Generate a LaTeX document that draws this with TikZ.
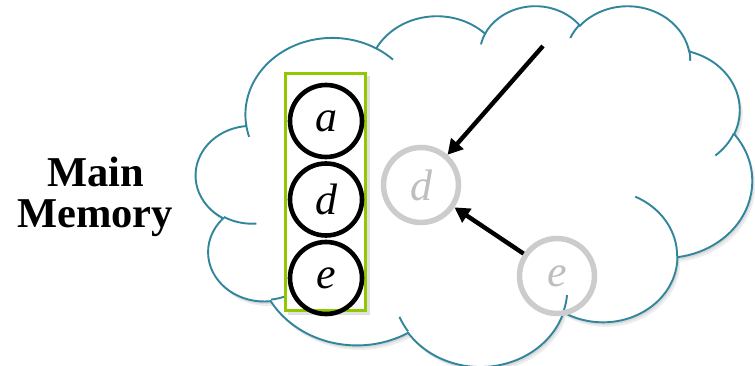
\documentclass[tikz,border=0pt]{standalone}
\usepackage{fontspec}
\setmainfont{Liberation Serif}
\usetikzlibrary{arrows.meta}
\definecolor{cloudblue}{RGB}{49,133,156}
\definecolor{boxgreen}{RGB}{146,200,0}
\definecolor{ringgray}{RGB}{204,204,204}
\definecolor{lettergray}{RGB}{190,190,190}
% visual (DrawingML) angles -> parametric angles
\newcommand\mkang[6]{%
  \pgfmathsetmacro#1{atan2((#3)*sin(#5),(#4)*cos(#5))}%
  \pgfmathsetmacro#2{atan2((#3)*sin((#5)+(#6)),(#4)*cos((#5)+(#6)))}%
  \pgfmathsetmacro#2{(#6)>0 ? ((#2)<(#1) ? (#2)+360 : (#2)) : ((#2)>(#1) ? (#2)-360 : (#2))}%
}
\newcommand\cloudpath{(390,1437)
  arc[x radius=675.3,y radius=919.0,start angle=\cSa,end angle=\cEa]
  arc[x radius=533.3,y radius=726.7,start angle=\cSb,end angle=\cEb]
  arc[x radius=436.5,y radius=594.5,start angle=\cSc,end angle=\cEc]
  arc[x radius=485.7,y radius=659.5,start angle=\cSd,end angle=\cEd]
  arc[x radius=533.3,y radius=727.3,start angle=\cSe,end angle=\cEe]
  arc[x radius=677.5,y radius=922.0,start angle=\cSf,end angle=\cEf]
  arc[x radius=578.5,y radius=786.7,start angle=\cSg,end angle=\cEg]
  arc[x radius=675.2,y radius=921.5,start angle=\cSh,end angle=\cEh]
  arc[x radius=772.0,y radius=1054.3,start angle=\cSi,end angle=\cEi]
  arc[x radius=436.0,y radius=591.8,start angle=\cSj,end angle=\cEj]
  arc[x radius=434.5,y radius=594.5,start angle=\cSk,end angle=\cEk] -- cycle}
\begin{document}
\begin{tikzpicture}[x=1pt,y=-1pt,
  cloudline/.style={draw=cloudblue,line width=1.9pt},
  memcirc/.style={circle,draw=black,line width=4.6pt,minimum size=72pt,inner sep=0pt,
     font=\fontsize{44}{44}\selectfont\itshape},
  ghost/.style={circle,draw=ringgray,line width=5.5pt,minimum size=75pt,inner sep=0pt,
     text=lettergray,font=\fontsize{44}{44}\selectfont\itshape},
  ptr/.style={line width=4.4pt,-{Triangle[length=15pt,width=16pt]}},
  label/.style={font=\fontsize{42.5}{42.5}\selectfont\bfseries,anchor=base,inner sep=0pt}]
\useasboundingbox (0,0) rectangle (755,366);
% cloud angles
\mkang\cSa\cEa{675.3}{919.0}{-190.48748}{123.78053}
\mkang\cSb\cEb{533.3}{726.7}{-144.10238}{89.94523}
\mkang\cSc\cEc{436.5}{594.5}{-145.80792}{99.72302}
\mkang\cSd\cEd{485.7}{659.5}{-130.98607}{117.24173}
\mkang\cSe\cEe{533.3}{727.3}{-78.70888}{109.02692}
\mkang\cSf\cEf{677.5}{922.0}{-46.26725}{130.269}
\mkang\cSg\cEg{578.5}{786.7}{0.62502}{114.03333}
\mkang\cSh\cEh{675.2}{921.5}{22.4516}{115.17255}
\mkang\cSi\cEi{772.0}{1054.3}{66.24263}{75.71102}
\mkang\cSj\cEj{436.0}{591.8}{-274.94208}{146.73557}
\mkang\cSk\cEk{434.5}{594.5}{-246.8285}{152.51885}
\mkang\iSa\iEa{434.5}{594.5}{86.742}{26.4295}
\mkang\iSb\iEb{436.0}{591.8}{73.61047}{11.44747}
\mkang\iSc\iEc{675.2}{921.5}{137.62415}{14.0811}
\mkang\iSd\iEd{675.2}{921.5}{6.45327}{15.99835}
\mkang\iSe\iEe{578.5}{786.7}{-70.29235}{70.91737}
\mkang\iSf\iEf{533.3}{727.3}{30.31803}{27.7515}
\mkang\iSg\iEg{485.7}{659.5}{-13.74433}{14.8589}
\mkang\iSh\iEh{485.7}{659.5}{-149.18145}{18.19537}
\mkang\iSi\iEi{436.5}{594.5}{-163.49427}{17.68635}
\mkang\iSj\iEj{675.3}{919.0}{-66.70695}{12.31935}
\mkang\iSk\iEk{675.3}{919.0}{157.65435}{11.85817}
\begin{scope}[xshift=196pt,yshift=-5pt,x=0.128704pt,y=-0.0835pt]
  \fill[black,opacity=0.07,xshift=3pt,yshift=-4.5pt] \cloudpath;
  \fill[black,opacity=0.08,xshift=1.5pt,yshift=-2.5pt] \cloudpath;
  \filldraw[fill=white,cloudline] \cloudpath;
  \draw[cloudline] (469.3,2617.7) arc[x radius=434.5,y radius=594.5,start angle=\iSa,end angle=\iEa];
  \draw[cloudline] (692.8,3489.9) arc[x radius=436.0,y radius=591.8,start angle=\iSb,end angle=\iEb];
  \draw[cloudline] (1647.8,3909.0) arc[x radius=675.2,y radius=921.5,start angle=\iSc,end angle=\iEc];
  \draw[cloudline] (2882.7,3475.1) arc[x radius=675.2,y radius=921.5,start angle=\iSd,end angle=\iEd];
  \draw[cloudline] (3412.9,2295.4) arc[x radius=578.5,y radius=786.7,start angle=\iSe,end angle=\iEe];
  \draw[cloudline] (4179.8,1535.4) arc[x radius=533.3,y radius=727.3,start angle=\iSf,end angle=\iEf];
  \draw[cloudline] (3832.4,542.6) arc[x radius=485.7,y radius=659.5,start angle=\iSg,end angle=\iEg];
  \draw[cloudline] (2907.8,395.2) arc[x radius=485.7,y radius=659.5,start angle=\iSh,end angle=\iEh];
  \draw[cloudline] (2214.1,472.0) arc[x radius=436.5,y radius=594.5,start angle=\iSi,end angle=\iEi];
  \draw[cloudline] (1400.0,519.2) arc[x radius=675.3,y radius=919.0,start angle=\iSj,end angle=\iEj];
  \draw[cloudline] (412.7,1578.9) arc[x radius=675.3,y radius=919.0,start angle=\iSk,end angle=\iEk];
\end{scope}
% label
\node[label] (main) at (95.5,187) {Main};
\node[label] (memory) at (95,228) {Memory};
% box of a, d, e
\fill[black,opacity=0.12] (287.5,76) rectangle (369.5,315);
\node[draw=boxgreen,fill=white,line width=3pt,minimum width=80pt,minimum height=237pt,inner sep=0pt] (box) at (325.5,192) {};
\node[memcirc] (a) at (326,121) {a};
\node[memcirc] (d) at (326,199.5) {d};
\node[memcirc] (e) at (326,278) {e};
% ghost nodes
\node[ghost] (dg) at (421,185) {d};
\node[ghost] (eg) at (557,276) {e};
\coordinate (src) at (543,46);
\draw[ptr] (src) -- (dg);
\draw[ptr] (eg) -- (dg);
\end{tikzpicture}
\end{document}
